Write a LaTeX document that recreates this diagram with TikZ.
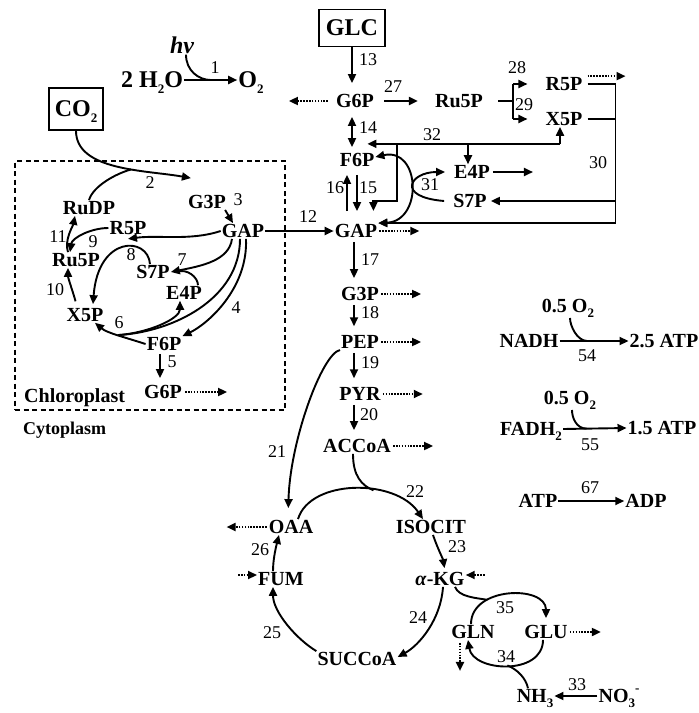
\documentclass[tikz,border=0pt]{standalone}
\usepackage{fontspec}
\setmainfont{Liberation Serif}
\usetikzlibrary{arrows.meta, calc}

\newcommand\metfont{\fontsize{20}{22}\selectfont\bfseries}
\newcommand\bigfont{\fontsize{24}{26}\selectfont\bfseries}
\newcommand\numfont{\fontsize{18}{20}\selectfont}
\newcommand\lowix[1]{\smash{\raisebox{-0.25em}{\fontsize{13}{13}\selectfont #1}}}
\newcommand\highix[1]{\smash{\raisebox{0.5em}{\fontsize{13}{13}\selectfont #1}}}

\tikzset{
  met/.style={font=\metfont, inner sep=1pt},
  big/.style={font=\bigfont, inner sep=1pt},
  boxed/.style={draw, line width=1.6pt, inner sep=0pt},
  num/.style={font=\numfont, inner sep=0pt},
  flow/.style={line width=1.9pt},
  arr/.style={flow, -{Triangle[length=9pt,width=8pt]}},
  dblarr/.style={flow, {Triangle[length=9pt,width=8pt]}-{Triangle[length=9pt,width=8pt]}},
  expo/.style={arr, dash pattern=on 1.6pt off 1.3pt},
  col/.style={arr, shorten <=3pt, shorten >=8pt},
  chlbox/.style={draw, line width=1.3pt, dash pattern=on 5pt off 3.5pt,
    minimum width=270pt, minimum height=249pt, inner sep=0pt}
}

\begin{document}
\begin{tikzpicture}[x=1pt, y=-1pt]
\useasboundingbox (0,0) rectangle (699,713);

%% ---------------------------------------------------------------
%%  LIGHT REACTION
%% ---------------------------------------------------------------
\node[big] (hv)  at (182,45) {\itshape hν};
\node[big] (h2o) at (152,80) {2 H\lowix{2}O};
\node[big] (o2)  at (251,80) {O\lowix{2}};
\draw[arr] (h2o.east) -- (o2.west) coordinate[pos=0.5] (j1);
\draw[flow] ([xshift=4pt]hv.south) .. controls +(0,16) and +(-12,0) .. (j1);

%% ---------------------------------------------------------------
%%  CHLOROPLAST (Calvin cycle)
%% ---------------------------------------------------------------
\node[chlbox] (chl) at (150,285.5) {};
\node[big, boxed, minimum width=54pt, minimum height=42pt] (co2) at (76,109) {CO\lowix{2}};

\node[met] (g3pc)  at (207,202) {G3P};
\node[met] (gapc)  at (243,231) {GAP};
\node[met] (rudp)  at (89,208)  {RuDP};
\node[met] (r5pc)  at (128,228) {R5P};
\node[met] (ru5pc) at (76,260)  {Ru5P};
\node[met] (s7pc)  at (153,272) {S7P};
\node[met] (e4pc)  at (184,293) {E4P};
\node[met] (x5pc)  at (85,315)  {X5P};
\node[met] (f6pc)  at (164,344) {F6P};
\node[met] (g6pc)  at (163,392) {G6P};
\node[met, anchor=base west] (chlo) at (23,402) {Chloroplast};
\node[met, font=\fontsize{18}{20}\selectfont\bfseries, anchor=base west] (cyto) at (22,434) {Cytoplasm};

% CO2 fixation
\coordinate (t2) at ($(g3pc.north west)+(4,-16)$);
\draw[arr] (co2.south) .. controls +(0,40) and +(-45,-8) .. (t2) coordinate[pos=0.6] (j2);
\draw[flow] (rudp.north) .. controls +(4,-14) and +(-15,4) .. (j2);

\draw[arr] ([xshift=-2pt]g3pc.south east) -- ([xshift=-10pt]gapc.north);

% regeneration
\draw[arr] ([xshift=-8pt]ru5pc.north) .. controls +(-4,-12) and +(-2,10) .. ([xshift=-14pt]rudp.south);
\draw[arr] (r5pc.west) .. controls +(-18,0) and +(2,-14) .. ([xshift=-6pt]ru5pc.north);
\draw[arr, shorten <=6pt] ([xshift=-8pt]x5pc.north) .. controls +(-3,-12) and +(0,10) .. ([xshift=-8pt]ru5pc.south);
\draw[arr] (gapc.west) .. controls +(-30,10) and +(30,-4) .. ([yshift=-3pt]r5pc.south);
\draw[arr] ([xshift=-3pt]s7pc.north) .. controls +(-2,-28) and +(5,-69) .. ([xshift=8pt,yshift=3pt]x5pc.north);
\draw[arr] ([xshift=-11pt]gapc.south) .. controls +(-3,22) and +(30,-6) .. (s7pc.east);
\draw[flow] ([xshift=14pt]e4pc.north) .. controls +(0,-8) and +(10,-4) .. ([xshift=6pt]s7pc.east);
\draw[arr] (f6pc.west) .. controls +(-25,-8) and +(12,10) .. ([xshift=10pt]x5pc.south) coordinate[pos=0.45] (j6);
\draw[arr] (j6) .. controls +(30,-2) and +(0,18) .. ([xshift=-4pt]e4pc.south);
\draw[flow] ([xshift=-3pt]gapc.south) .. controls +(0,60) and +(55,-3) .. (j6);
\draw[arr] ([xshift=3pt]gapc.south) .. controls +(2,50) and +(25,-12) .. (f6pc.north east);
\draw[arr, shorten <=2pt, shorten >=6pt] ([xshift=-4pt]f6pc.south) -- ([xshift=-4pt]f6pc.south |- g6pc.north);
\draw[expo] ([xshift=2pt]g6pc.east) -- ++(42,0);

%% ---------------------------------------------------------------
%%  GLYCOLYSIS / PENTOSE PHOSPHATE
%% ---------------------------------------------------------------
\node[big, boxed, minimum width=66pt, minimum height=37pt] (glc) at (352,28) {GLC};
\node[met] (g6p)   at (355,101) {G6P};
\node[met] (ru5p)  at (459,101) {Ru5P};
\node[met] (r5p)   at (564,84)  {R5P};
\node[met] (x5p)   at (564,119) {X5P};
\node[met] (f6p)   at (357,160) {F6P};
\node[met] (e4p)   at (472,172) {E4P};
\node[met] (s7p)   at (470,201) {S7P};
\node[met] (gap)   at (356,231) {GAP};
\node[met] (g3p)   at (360,294) {G3P};
\node[met] (pep)   at (360,342) {PEP};
\node[met] (pyr)   at (360,394) {PYR};
\node[met] (accoa) at (357,446) {ACCoA};

\draw[arr] (gapc.east) -- (gap.west);
\draw[arr, shorten >=10pt] (glc.south) -- (glc.south |- g6p.north);
\draw[expo] ([xshift=-7pt]g6p.west) -- ++(-39,0);
\draw[arr, shorten <=9pt, shorten >=16pt] (g6p.east) -- (ru5p.west);

% Ru5P branch (28, 29)
\draw[flow] ([xshift=14pt]ru5p.east) -- ++(15,0) coordinate (br);
\draw[flow] (br |- r5p) -- (br |- x5p);
\draw[arr, shorten >=17pt] (br |- r5p) -- (r5p.west);
\draw[arr, shorten >=17pt] (br |- x5p) -- (x5p.west);
\draw[expo] ([xshift=4pt]r5p.north east) -- ++(38,0);

% 30
\coordinate (k30) at ($(r5p.east)+(32,0)$);
\draw[arr] ([xshift=4pt]r5p.east) -- (k30) -- (k30 |- gap.north east) -- (gap.north east);
\draw[flow] ([xshift=4pt]x5p.east) -- (x5p.east -| k30);
\draw[arr] (s7p.east -| k30) -- ([xshift=3pt]s7p.east);

% 32
\coordinate (k32) at ($(x5p.south)+(-4,17)$);
\coordinate (k32e) at ($(e4p.north)+(-4,0)$);
\coordinate (k32g) at ($(k32 -| f6p.east)+(22,0)$);
\draw[arr] (k32) -- ([xshift=-4pt]x5p.south);
\draw[arr] (k32) -- ($(k32 -| f6p.east)+(-8,0)$);
\draw[arr] (k32e |- k32) -- (k32e);
\draw[arr] (k32g) -- (k32g |- s7p) -- ++(-24,0) -- ++(0,10);

% 14, 15, 16
\draw[dblarr, shorten <=8pt, shorten >=5pt] (glc.south |- g6p.south) -- (glc.south |- f6p.north);
\coordinate (c16) at ($(f6p.south)+(-10,0)$);
\coordinate (c15) at (f6p.south);
\draw[arr, shorten <=12pt, shorten >=7pt] (c16 |- gap.north) -- (c16);
\draw[arr, shorten <=7pt, shorten >=12pt] (c15) -- (c15 |- gap.north);

% 31
\draw[dblarr] ([yshift=3pt]f6p.east) .. controls +(45,-10) and +(45,-2) .. (gap.north east);
\draw[arr] ([xshift=-8pt]s7p.west) .. controls +(-49,-4) and +(-35,0) .. ([xshift=-8pt]e4p.west);
\draw[arr] ([xshift=2pt]e4p.east) -- ++(40,0);

% lower glycolysis
\coordinate (cB) at ($(gap.south)+(-2,0)$);
\draw[col] (cB) -- (cB |- g3p.north);
\draw[col] (cB |- g3p.south) -- (cB |- pep.north);
\draw[col] (cB |- pep.south) -- (cB |- pyr.north);
\draw[col] (cB |- pyr.south) -- (cB |- accoa.north);
\draw[expo] ([xshift=1pt]gap.east) -- ++(40,0);
\draw[expo] ([xshift=1pt]g3p.east) -- ++(40,0);
\draw[expo] ([xshift=1pt]pep.east) -- ++(40,0);
\draw[expo] ([xshift=1pt]pyr.east) -- ++(40,0);
\draw[expo] ([xshift=1pt]accoa.east) -- ++(40,0);

%% ---------------------------------------------------------------
%%  TCA CYCLE
%% ---------------------------------------------------------------
\node[met] (oaa)    at (291,527) {OAA};
\node[met] (isocit) at (431,527) {ISOCIT};
\node[met] (akg)    at (440,579) {\textit{α}-KG};
\node[met] (fum)    at (281,579) {FUM};
\node[met] (succoa) at (357,659) {SUCCoA};

\draw[arr, shorten >=11pt] ([yshift=-8pt]pep.west) .. controls +(-18,4) and +(2,-78) .. ([xshift=-3pt]oaa.north);
\draw[expo] ([xshift=-1pt]oaa.west) -- ++(-40,0);
\draw[arr] ([xshift=7pt]oaa.north) .. controls +(12,-40) and +(-28,-41) .. ([xshift=-8pt]isocit.north) coordinate[pos=0.62] (j22);
\draw[flow] ([xshift=-4pt]accoa.south) .. controls +(0,22) and +(-12,-5) .. (j22);
\draw[arr, shorten >=3pt] ([xshift=2pt]isocit.south) .. controls +(4,12) and +(-2,-12) .. ([xshift=5pt]akg.north);
\draw[expo] ([xshift=19pt,yshift=4pt]akg.east) -- ([yshift=4pt]akg.east);
\draw[expo] ([xshift=-19pt,yshift=4pt]fum.west) -- ([yshift=4pt]fum.west);
\draw[arr] ([xshift=-8pt]fum.north) .. controls +(0,-12) and +(-3,12) .. ([xshift=-12pt]oaa.south);
\draw[arr] ([xshift=3pt]akg.south) .. controls +(-2,32) and +(22,-12) .. ([yshift=2pt]succoa.east);
\draw[arr] (succoa.north west) .. controls +(-20,-12) and +(0,25) .. ([xshift=-8pt]fum.south);

%% ---------------------------------------------------------------
%%  NITROGEN ASSIMILATION
%% ---------------------------------------------------------------
\node[met] (gln) at (473,632) {GLN};
\node[met] (glu) at (546,632) {GLU};
\node[met] (nh3) at (535,696) {NH\lowix{3}};
\node[met] (no3) at (619,696) {NO\lowix{3}\highix{-}};

\draw[arr] ([xshift=-2pt]gln.north) .. controls +(0,-38) and +(0,-33) .. ([yshift=6pt]glu.north) coordinate[pos=0.3] (j35);
\draw[flow] ([xshift=15pt]akg.south) .. controls +(4,10) and +(-12,-2) .. (j35);
\draw[arr] ([xshift=-3pt]glu.south) .. controls +(0,36) and +(5,32) .. ([xshift=-5pt]gln.south) coordinate[pos=0.5] (j34);
\draw[flow] ([xshift=-7pt]nh3.north) .. controls +(-2,-10) and +(10,4) .. (j34);
\draw[expo] ([xshift=-13pt,yshift=-3pt]gln.south) -- ++(0,28);
\draw[expo] ([xshift=1pt]glu.east) -- ++(31,0);
\draw[arr] (no3.west) -- (nh3.east);

%% ---------------------------------------------------------------
%%  ENERGY
%% ---------------------------------------------------------------
\node[met] (nadh)  at (529,341) {NADH};
\node[met] (o2a)   at (568,306) {0.5 O\lowix{2}};
\node[met] (atp25) at (664,341) {2.5 ATP};
\node[met] (fadh)  at (531,429) {FADH\lowix{2}};
\node[met] (o2b)   at (570,398) {0.5 O\lowix{2}};
\node[met] (atp15) at (662,428) {1.5 ATP};
\node[met] (atp)   at (538,501) {ATP};
\node[met] (adp)   at (646,501) {ADP};

\draw[arr] (nadh.east) -- (atp25.west) coordinate[pos=0.4] (j54);
\draw[flow, shorten <=4pt] ([xshift=2pt]o2a.south) .. controls +(0,12) and +(-10,0) .. (j54);
\draw[arr] (fadh.east) -- (atp15.west) coordinate[pos=0.37] (j55);
\draw[flow, shorten <=4pt] ([xshift=2pt]o2b.south) .. controls +(0,12) and +(-10,0) .. (j55);
\draw[arr] (atp.east) -- (adp.west);

%% reaction numbers
\foreach \px/\py/\lb in {215/68/1, 150/183/2, 238/200/3, 236/308/4, 172/362/5,
    119/323/6, 182/260/7, 131/255/8, 93/242/9, 55/290/10, 58/237/11, 308/217/12,
    368/60/13, 368/128/14, 368/188/15, 335/188/16, 370/260/17, 370/313/18,
    370/363/19, 369/415/20, 277/452/21, 415/492/22, 457/547/23, 418/618/24,
    272/633/25, 260/550/26, 393/87/27, 517/68/28, 524/105/29, 598/163/30,
    430/185/31, 432/135/32, 577/685/33, 506/657/34, 505/608/35, 587/356/54,
    590/445/55, 590/488/67}
  \node[num] (n\lb) at (\px,\py) {\lb};

\end{tikzpicture}
\end{document}
